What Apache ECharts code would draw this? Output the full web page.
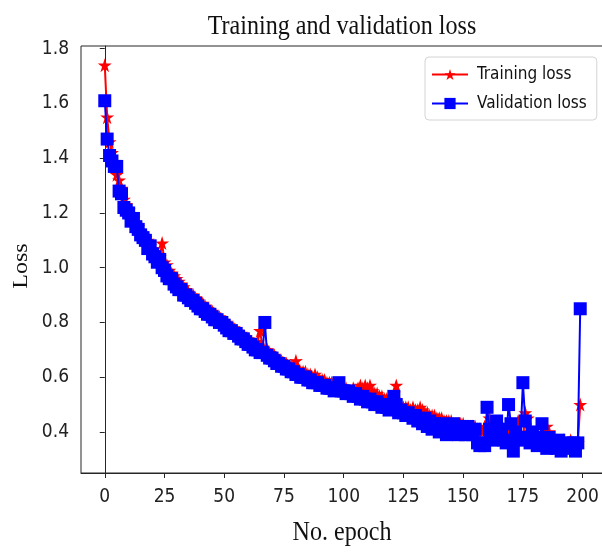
<!DOCTYPE html>
<html>
<head>
<meta charset="utf-8">
<script src="https://cdn.jsdelivr.net/npm/echarts@6/dist/echarts.min.js"></script>
<style>
html,body{margin:0;padding:0;background:#fff;}
#chart{width:602px;height:552px;}
</style>
</head>
<body>
<div id="chart"></div>
<script>
// ---- data ----
const trainLoss = [
1.74,1.55,1.46,1.42,1.38,1.34,1.32,1.29,1.25,1.23,
1.21,1.19,1.18,1.16,1.15,1.13,1.12,1.11,1.10,1.08,
1.07,1.06,1.05,1.04,1.09,1.02,1.01,0.99,0.98,0.97,
0.96,0.95,0.94,0.93,0.92,0.91,0.90,0.90,0.89,0.88,
0.87,0.87,0.86,0.85,0.84,0.84,0.83,0.82,0.82,0.81,
0.80,0.80,0.79,0.78,0.78,0.77,0.76,0.76,0.75,0.74,
0.74,0.73,0.72,0.72,0.73,0.77,0.71,0.70,0.70,0.69,
0.68,0.68,0.67,0.66,0.66,0.65,0.65,0.64,0.64,0.64,
0.66,0.63,0.62,0.62,0.62,0.61,0.61,0.60,0.61,0.60,
0.59,0.59,0.59,0.58,0.58,0.58,0.57,0.57,0.57,0.56,
0.56,0.56,0.55,0.55,0.56,0.55,0.56,0.57,0.56,0.57,
0.56,0.57,0.55,0.54,0.54,0.53,0.53,0.52,0.52,0.51,
0.51,0.52,0.57,0.50,0.50,0.49,0.49,0.49,0.48,0.49,
0.48,0.48,0.49,0.48,0.47,0.47,0.46,0.46,0.46,0.45,
0.45,0.45,0.44,0.44,0.44,0.44,0.43,0.43,0.43,0.43,
0.43,0.42,0.42,0.42,0.42,0.42,0.41,0.41,0.40,0.42,
0.41,0.45,0.43,0.41,0.40,0.42,0.40,0.41,0.39,0.40,
0.41,0.39,0.40,0.44,0.39,0.37,0.47,0.45,0.40,0.38,
0.37,0.38,0.37,0.39,0.38,0.42,0.40,0.38,0.37,0.37,
0.36,0.36,0.37,0.36,0.36,0.37,0.36,0.35,0.36,0.50
];
const valLoss = [
1.61,1.47,1.41,1.39,1.37,1.37,1.28,1.27,1.22,1.21,
1.20,1.17,1.18,1.15,1.14,1.12,1.11,1.10,1.07,1.08,
1.05,1.04,1.02,1.03,1.00,0.99,0.97,0.96,0.96,0.94,
0.93,0.92,0.92,0.90,0.90,0.89,0.88,0.88,0.87,0.86,
0.85,0.85,0.84,0.83,0.83,0.82,0.81,0.81,0.80,0.80,
0.79,0.78,0.77,0.77,0.76,0.76,0.75,0.74,0.74,0.73,
0.72,0.72,0.71,0.70,0.70,0.69,0.69,0.80,0.68,0.67,
0.67,0.66,0.65,0.65,0.64,0.64,0.63,0.63,0.62,0.62,
0.61,0.61,0.60,0.60,0.60,0.59,0.59,0.58,0.58,0.58,
0.57,0.57,0.57,0.56,0.56,0.56,0.55,0.56,0.58,0.55,
0.55,0.54,0.55,0.54,0.53,0.54,0.53,0.52,0.53,0.52,
0.51,0.52,0.51,0.50,0.51,0.50,0.49,0.50,0.49,0.48,
0.49,0.53,0.50,0.47,0.48,0.47,0.46,0.47,0.46,0.45,
0.46,0.44,0.45,0.43,0.45,0.42,0.44,0.41,0.43,0.42,
0.40,0.43,0.41,0.39,0.42,0.40,0.43,0.40,0.39,0.42,
0.41,0.39,0.42,0.40,0.39,0.41,0.36,0.35,0.36,0.35,
0.49,0.41,0.37,0.40,0.44,0.38,0.41,0.37,0.36,0.50,
0.43,0.33,0.40,0.37,0.38,0.58,0.44,0.38,0.36,0.40,
0.37,0.35,0.38,0.43,0.36,0.34,0.38,0.35,0.36,0.34,
0.37,0.33,0.35,0.36,0.34,0.35,0.36,0.33,0.36,0.85
];
const xTicks = [0,25,50,75,100,125,150,175,200];
const yTicks = [0.4,0.6,0.8,1.0,1.2,1.4,1.6,1.8];
const titleText = 'Training and validation loss';
const xName = 'No. epoch';
const yName = 'Loss';
const seriesNames = ['Training loss','Validation loss'];

// ---- chart ----
const star = 'path://M50 0 L61.17 34.63 L97.55 34.55 L68.07 55.87 L79.39 90.45 L50 69 L20.61 90.45 L31.93 55.87 L2.45 34.55 L38.83 34.63 Z';
const axisCol = '#262626';
const tickFont = 'DejaVu Sans Condensed';

const chart = echarts.init(document.getElementById('chart'), null, {renderer:'canvas'});
chart.setOption({
  animation:false,
  backgroundColor:'#fff',
  graphic:[
    {type:'text', x:342, y:27, scaleX:0.86, z:10,
      style:{text:titleText, font:'28px "Liberation Serif"', fill:'#111', align:'center', verticalAlign:'middle'}},
    {type:'text', x:342, y:533, scaleX:0.86, z:10,
      style:{text:xName, font:'28px "Liberation Serif"', fill:'#111', align:'center', verticalAlign:'middle'}},
    {type:'text', x:22, y:266, rotation:Math.PI/2, scaleY:0.86, z:10,
      style:{text:yName, font:'24px "Liberation Serif"', fill:'#111', align:'center', verticalAlign:'middle'}}
  ],
  legend:{
    orient:'vertical', left:425, top:57,
    padding:[9,10,8,6], itemGap:12, itemWidth:36, itemHeight:14,
    backgroundColor:'#fff', borderColor:'#d4d4d4', borderWidth:1, borderRadius:4,
    textStyle:{fontFamily:tickFont, fontSize:17, color:'#111', padding:[0,0,0,4]},
    data:seriesNames
  },
  grid:{left:81, width:523, top:46, height:427, containLabel:false, outerBoundsMode:'none',
    show:true, borderColor:axisCol, borderWidth:1, backgroundColor:'transparent'},
  xAxis:{
    type:'value', min:-9.95, max:208.95,
    axisLine:{show:true, lineStyle:{color:axisCol, width:1}},
    axisTick:{show:true, length:5, lineStyle:{color:axisCol}, customValues:xTicks},
    axisLabel:{fontFamily:tickFont, fontSize:19, color:'#222', margin:15, customValues:xTicks},
    splitLine:{show:false}
  },
  yAxis:{
    type:'value', min:0.25, max:1.81,
    axisLine:{show:true, lineStyle:{color:axisCol, width:1}},
    axisTick:{show:true, length:5, lineStyle:{color:axisCol}, customValues:yTicks},
    axisLabel:{fontFamily:tickFont, fontSize:19, color:'#222', margin:12, customValues:yTicks,
      formatter:v=>v.toFixed(1)},
    splitLine:{show:false}
  },
  series:[
    {
      name:seriesNames[0], type:'line', z:2,
      data:trainLoss.map((v,i)=>[i,v]),
      symbol:star, symbolSize:14, showAllSymbol:true,
      itemStyle:{color:'#ff0000'},
      lineStyle:{color:'#ff0000', width:2}
    },
    {
      name:seriesNames[1], type:'line', z:3,
      data:valLoss.map((v,i)=>[i,v]),
      symbol:'rect', symbolSize:13, showAllSymbol:true,
      itemStyle:{color:'#0000ff'},
      lineStyle:{color:'#0000ff', width:2}
    }
  ]
});
</script>
</body>
</html>
